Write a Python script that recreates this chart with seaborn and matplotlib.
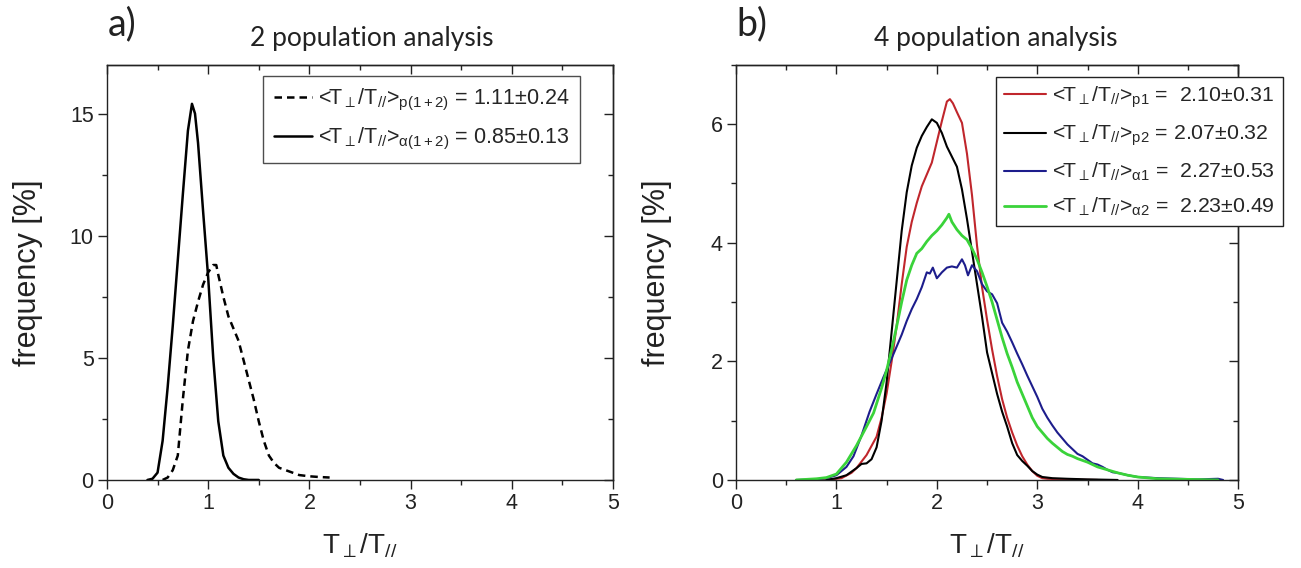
import numpy as np
import pandas as pd
import matplotlib
matplotlib.use("Agg")
import matplotlib.pyplot as plt
import seaborn as sns
from matplotlib.ticker import MultipleLocator

# ---------------- data ----------------
# panel a
p12_x = [0.55, 0.60, 0.65, 0.70, 0.75, 0.80, 0.85, 0.90, 0.95, 1.00, 1.05, 1.08, 1.10, 1.15, 1.20,
         1.25, 1.30, 1.35, 1.40, 1.45, 1.50, 1.55, 1.60, 1.65, 1.70, 1.80, 1.90, 2.00, 2.10, 2.20]
p12_y = [0.0, 0.1, 0.4, 1.0, 3.3, 5.3, 6.5, 7.3, 8.0, 8.5, 8.8, 8.8, 8.4, 7.5, 6.7,
         6.2, 5.7, 4.9, 4.1, 3.3, 2.4, 1.6, 1.0, 0.7, 0.5, 0.35, 0.2, 0.15, 0.12, 0.1]
a12_x = [0.40, 0.45, 0.50, 0.55, 0.60, 0.65, 0.70, 0.75, 0.80, 0.84, 0.87, 0.90, 0.95, 1.00,
         1.05, 1.10, 1.15, 1.20, 1.25, 1.30, 1.35, 1.40, 1.50]
a12_y = [0.0, 0.05, 0.3, 1.6, 3.8, 6.3, 9.0, 11.7, 14.3, 15.4, 15.0, 13.8, 11.0, 8.3,
         5.0, 2.4, 1.0, 0.5, 0.25, 0.1, 0.03, 0.0, 0.0]

# panel b
p1_x = [0.80, 0.95, 1.05, 1.15, 1.20, 1.30, 1.40, 1.45, 1.50, 1.55, 1.60, 1.65, 1.70, 1.75, 1.80,
        1.85, 1.90, 1.95, 2.00, 2.05, 2.10, 2.13, 2.16, 2.20, 2.25, 2.30, 2.35, 2.40, 2.45, 2.50,
        2.55, 2.60, 2.65, 2.70, 2.75, 2.80, 2.85, 2.90, 2.95, 3.00, 3.05, 3.10, 3.30, 3.60]
p1_y = [0.0, 0.01, 0.03, 0.12, 0.2, 0.42, 0.73, 1.05, 1.46, 2.0, 2.6, 3.3, 3.93, 4.35, 4.67,
        4.95, 5.15, 5.35, 5.7, 6.05, 6.38, 6.42, 6.35, 6.2, 6.02, 5.5, 4.8, 3.95, 3.25, 2.7,
        2.2, 1.75, 1.36, 1.05, 0.8, 0.58, 0.4, 0.26, 0.15, 0.07, 0.03, 0.02, 0.005, 0.0]
p2_x = [0.90, 1.00, 1.10, 1.20, 1.25, 1.30, 1.35, 1.40, 1.45, 1.50, 1.55, 1.60, 1.65, 1.70, 1.75,
        1.80, 1.85, 1.90, 1.95, 2.00, 2.05, 2.10, 2.15, 2.20, 2.25, 2.30, 2.35, 2.40, 2.45, 2.50,
        2.55, 2.60, 2.65, 2.70, 2.75, 2.80, 2.85, 2.90, 2.95, 3.00, 3.05, 3.15, 3.30, 3.50, 3.80]
p2_y = [0.0, 0.03, 0.08, 0.2, 0.27, 0.28, 0.35, 0.55, 1.0, 1.65, 2.5, 3.35, 4.2, 4.85, 5.3,
        5.6, 5.8, 5.95, 6.08, 6.02, 5.85, 5.62, 5.45, 5.28, 4.9, 4.4, 3.85, 3.3, 2.75, 2.15,
        1.8, 1.45, 1.15, 0.9, 0.62, 0.42, 0.32, 0.24, 0.15, 0.09, 0.05, 0.03, 0.02, 0.01, 0.0]
a1_x = [0.60, 0.80, 0.90, 1.00, 1.10, 1.17, 1.25, 1.33, 1.40, 1.47, 1.55, 1.60, 1.65, 1.70, 1.75,
        1.80, 1.85, 1.90, 1.93, 1.96, 2.00, 2.05, 2.10, 2.15, 2.20, 2.25, 2.28, 2.31, 2.35, 2.40,
        2.45, 2.50, 2.55, 2.60, 2.65, 2.70, 2.75, 2.80, 2.85, 2.90, 2.95, 3.00, 3.05, 3.10, 3.15,
        3.20, 3.25, 3.30, 3.35, 3.40, 3.45, 3.50, 3.55, 3.60, 3.65, 3.70, 3.75, 3.80, 3.90, 4.00,
        4.10, 4.20, 4.40, 4.60, 4.80, 4.85]
a1_y = [0.0, 0.01, 0.03, 0.08, 0.22, 0.4, 0.75, 1.15, 1.45, 1.74, 2.05, 2.25, 2.45, 2.68, 2.88,
        3.05, 3.25, 3.5, 3.48, 3.58, 3.4, 3.5, 3.58, 3.6, 3.58, 3.72, 3.62, 3.45, 3.62, 3.52,
        3.3, 3.18, 3.13, 2.98, 2.65, 2.5, 2.32, 2.13, 1.95, 1.76, 1.58, 1.4, 1.2, 1.05, 0.92,
        0.8, 0.7, 0.6, 0.52, 0.44, 0.4, 0.34, 0.28, 0.26, 0.22, 0.17, 0.13, 0.12, 0.08, 0.05,
        0.04, 0.03, 0.02, 0.01, 0.02, 0.0]
a2_x = [0.60, 0.80, 0.90, 1.00, 1.10, 1.20, 1.30, 1.37, 1.45, 1.50, 1.55, 1.60, 1.65, 1.70, 1.75,
        1.80, 1.85, 1.90, 1.95, 2.00, 2.05, 2.10, 2.12, 2.15, 2.20, 2.25, 2.30, 2.35, 2.40, 2.45,
        2.50, 2.55, 2.60, 2.65, 2.70, 2.75, 2.80, 2.85, 2.90, 2.95, 3.00, 3.05, 3.10, 3.15, 3.20,
        3.25, 3.30, 3.35, 3.40, 3.50, 3.60, 3.70, 3.80, 3.90, 4.00, 4.20, 4.50, 4.80]
a2_y = [0.0, 0.02, 0.04, 0.1, 0.3, 0.58, 0.9, 1.13, 1.55, 1.85, 2.2, 2.59, 3.0, 3.37, 3.62,
        3.82, 3.9, 4.02, 4.12, 4.2, 4.3, 4.42, 4.48, 4.35, 4.22, 4.12, 4.05, 3.9, 3.72, 3.5,
        3.26, 3.0, 2.7, 2.4, 2.13, 1.9, 1.65, 1.45, 1.25, 1.05, 0.9, 0.8, 0.7, 0.62, 0.55,
        0.48, 0.43, 0.4, 0.36, 0.3, 0.22, 0.17, 0.12, 0.08, 0.05, 0.02, 0.01, 0.0]

label_p12 = r'<T$_{\perp}$/T$_{//}$>$_{\mathrm{p(1+2)}}$ = 1.11±0.24'
label_a12 = r'<T$_{\perp}$/T$_{//}$>$_{\mathrm{\alpha(1+2)}}$ = 0.85±0.13'
label_p1 = r'<T$_{\perp}$/T$_{//}$>$_{\mathrm{p1}}$ =  2.10±0.31'
label_p2 = r'<T$_{\perp}$/T$_{//}$>$_{\mathrm{p2}}$ = 2.07±0.32'
label_a1 = r'<T$_{\perp}$/T$_{//}$>$_{\mathrm{\alpha1}}$ =  2.27±0.53'
label_a2 = r'<T$_{\perp}$/T$_{//}$>$_{\mathrm{\alpha2}}$ =  2.23±0.49'

# ---------------- style ----------------
sns.set_theme(style="ticks")
plt.rcParams['font.family'] = ['Liberation Sans', 'DejaVu Sans']
plt.rcParams['mathtext.fontset'] = 'custom'
plt.rcParams['mathtext.rm'] = 'Liberation Sans'
plt.rcParams['mathtext.it'] = 'Liberation Sans:italic'
plt.rcParams['mathtext.bf'] = 'Liberation Sans:bold'
plt.rcParams['axes.linewidth'] = 1.0
plt.rcParams['axes.edgecolor'] = '#222222'

fig = plt.figure(figsize=(13.01, 5.68), dpi=100)
axA = fig.add_axes([0.0822, 0.155, 0.389, 0.731])
axB = fig.add_axes([0.5657, 0.155, 0.386, 0.731])

lw = 1.8
sns.lineplot(x=p12_x, y=p12_y, ax=axA, color='black', linestyle=(0, (3, 2)), lw=lw,
             label=label_p12, sort=False)
sns.lineplot(x=a12_x, y=a12_y, ax=axA, color='black', lw=lw, label=label_a12, sort=False)

lw2 = 1.5
sns.lineplot(x=p1_x, y=p1_y, ax=axB, color='#c0262c', lw=lw2, label=label_p1, sort=False)
sns.lineplot(x=p2_x, y=p2_y, ax=axB, color='black', lw=lw2, label=label_p2, sort=False)
sns.lineplot(x=a1_x, y=a1_y, ax=axB, color='#1d1d8c', lw=lw2, label=label_a1, sort=False)
sns.lineplot(x=a2_x, y=a2_y, ax=axB, color='#3ad33a', lw=2.0, label=label_a2, sort=False)


def style_axes(ax, ymax, ymaj, ymin):
    ax.set_xlim(0, 5)
    ax.set_ylim(0, ymax)
    ax.xaxis.set_major_locator(MultipleLocator(1))
    ax.xaxis.set_minor_locator(MultipleLocator(0.5))
    ax.yaxis.set_major_locator(MultipleLocator(ymaj))
    ax.yaxis.set_minor_locator(MultipleLocator(ymin))
    ax.tick_params(which='major', direction='out', length=6.5, width=1, labelsize=15.5,
                   colors='#222222', pad=3)
    ax.tick_params(which='minor', direction='out', length=3.5, width=1, colors='#222222')
    for s in ax.spines.values():
        s.set_visible(True)
        s.set_color('#222222')
    # inward mirrored ticks on top and right
    top = ax.secondary_xaxis('top')
    top.xaxis.set_major_locator(MultipleLocator(1))
    top.xaxis.set_minor_locator(MultipleLocator(0.5))
    top.tick_params(which='major', direction='in', length=6.5, width=1, labeltop=False,
                    colors='#222222')
    top.tick_params(which='minor', direction='in', length=3.5, width=1, colors='#222222')
    right = ax.secondary_yaxis('right')
    right.yaxis.set_major_locator(MultipleLocator(ymaj))
    right.yaxis.set_minor_locator(MultipleLocator(ymin))
    right.tick_params(which='major', direction='in', length=6.5, width=1, labelright=False,
                      colors='#222222')
    right.tick_params(which='minor', direction='in', length=3.5, width=1, colors='#222222')
    ax.set_xlabel(r'T$_{\perp}$/T$_{//}$', fontsize=20, color='#222222')
    ax.set_ylabel('frequency [%]', fontsize=22, color='#222222')
    ax.xaxis.set_label_coords(0.5, -0.125)
    ax.yaxis.set_label_coords(-0.127, 0.5)


style_axes(axA, 17, 5, 2.5)
style_axes(axB, 7, 2, 1)

legA = axA.legend(loc='upper left', bbox_to_anchor=(0.308, 0.973), fontsize=15.5,
                  frameon=True, fancybox=False, edgecolor='#222222', handlelength=1.8,
                  borderpad=0.5, labelspacing=0.6, handletextpad=0.25, borderaxespad=0)
legA.get_frame().set_linewidth(1.0)
legB = axB.legend(loc='upper left', bbox_to_anchor=(0.518, 0.97), fontsize=15.3,
                  frameon=True, fancybox=False, edgecolor='#222222', handlelength=2.0,
                  borderpad=0.35, labelspacing=0.6, handletextpad=0.3, framealpha=1,
                  borderaxespad=0)
legB.get_frame().set_linewidth(1.0)
legB.set_zorder(10)

fig.text(0.083, 0.938, 'a)', fontsize=27, family=['Lato', 'DejaVu Sans'], color='#222222',
         va='baseline')
fig.text(0.566, 0.938, 'b)', fontsize=27, family=['Lato', 'DejaVu Sans'], color='#222222',
         va='baseline')
fig.text(0.286, 0.919, '2 population analysis', fontsize=19, family=['Lato', 'DejaVu Sans'],
         ha='center', va='baseline', color='#222222')
fig.text(0.765, 0.919, '4 population analysis', fontsize=19, family=['Lato', 'DejaVu Sans'],
         ha='center', va='baseline', color='#222222')

fig.savefig('out.png', dpi=100, facecolor='white')
